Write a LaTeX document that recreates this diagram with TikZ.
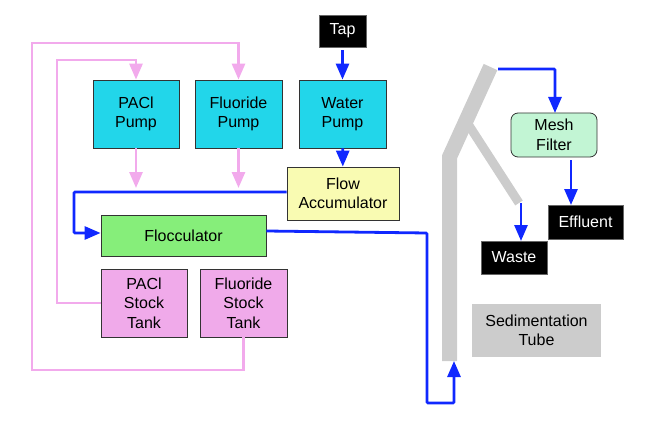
\documentclass[tikz,border=0pt]{standalone}
\usepackage{fontspec}
\setmainfont{Liberation Sans}
\usepackage{tikz}
\usetikzlibrary{arrows.meta}

\definecolor{pumpcyan}{RGB}{34,214,234}
\definecolor{accumyellow}{RGB}{249,251,178}
\definecolor{floccgreen}{RGB}{134,238,122}
\definecolor{tankpink}{RGB}{240,170,234}
\definecolor{meshgreen}{RGB}{194,245,212}
\definecolor{tubegray}{RGB}{204,204,204}
\definecolor{flowblue}{RGB}{16,40,255}
\definecolor{dosepink}{RGB}{242,170,236}

\tikzset{
  box/.style={draw=black!80, line width=0.8pt, align=center, inner sep=0pt,
    font=\fontsize{16}{19.5}\selectfont},
  blackbox/.style={box, fill=black, draw=black!60, text=white},
  water/.style={flowblue, line width=2.8pt, -{Triangle[width=13pt,length=16pt]}},
  dose/.style={dosepink, line width=2.8pt, -{Triangle[width=13pt,length=16pt]}}
}

\begin{document}
\begin{tikzpicture}[x=1pt, y=-1pt]
    \useasboundingbox (0,0) rectangle (646,428);
    % pumps and tanks
    \node[blackbox, minimum width=47pt, minimum height=32pt] (tap) at (342.5,31) {Tap};
    \node[box, fill=pumpcyan, minimum width=86pt, minimum height=68pt] (paclpump) at (136,114) {PACl\\Pump};
    \node[box, fill=pumpcyan, minimum width=87pt, minimum height=68pt] (flpump) at (238.5,114) {Fluoride\\Pump};
    \node[box, fill=pumpcyan, minimum width=87pt, minimum height=68pt] (waterpump) at (342.5,114) {Water\\Pump};
    \node[box, fill=accumyellow, minimum width=112pt, minimum height=53pt] (accum) at (343,193.5) {Flow\\Accumulator};
    \node[box, fill=floccgreen, minimum width=165pt, minimum height=41pt] (flocc) at (183.5,235.5) {Flocculator};
    \node[box, fill=tankpink, minimum width=86pt, minimum height=68pt] (pacltank) at (144,303) {PACl\\Stock\\Tank};
    \node[box, fill=tankpink, minimum width=87pt, minimum height=68pt] (fltank) at (243.5,303) {Fluoride\\Stock\\Tank};
    % right side
    \node[box, fill=meshgreen, rounded corners=7pt, minimum width=86pt, minimum height=44pt] (mesh) at (554,135) {Mesh\\Filter};
    \node[blackbox, minimum width=75pt, minimum height=34pt] (effluent) at (585.5,222) {Effluent};
    \node[blackbox, minimum width=66pt, minimum height=33pt] (waste) at (514,257.5) {Waste};
    \node[box, draw=none, fill=tubegray, minimum width=129pt, minimum height=53pt] (tubelabel) at (536.5,330.5) {Sedimentation\\Tube};

    % sedimentation tube
    \coordinate (tubebot) at (449.5,361);
    \coordinate (tubeknee) at (449.5,157);
    \coordinate (tubetop) at (490.5,67);
    \coordinate (branchtop) at (468,124);
    \coordinate (branchend) at (519,203);
    \draw[tubegray, line width=15pt, line join=miter] (tubebot) -- (tubeknee) -- (tubetop);
    \draw[tubegray, line width=9pt] (branchtop) -- (branchend);

    % water line
    \draw[water, shorten <=3pt] (tap) -- (waterpump);
    \draw[water] (waterpump) -- (accum);
    \draw[water, rounded corners=1pt] (accum.west |- 0,192) -- (74,192) -- (74,233) -- (flocc.west |- 0,233);
    \draw[water, rounded corners=1pt] (flocc.east |- 0,231) -- (427,233) -- (427,403) -- (454,403) -- (454,361);
    \draw[water, rounded corners=1pt] (498,69) -- (555,69) -- (555,113);
    \coordinate (effin) at (571,205);
    \draw[water, shorten <=3pt] (effin |- mesh.south) -- (effin);
    \coordinate (wastein) at (521,241);
    \draw[water] (wastein |- branchend) -- (wastein);

    % dosing lines
    \coordinate (pacldrop) at (136,188);
    \coordinate (fldrop) at (238.5,188);
    \draw[dose] (paclpump) -- (pacldrop);
    \draw[dose] (flpump) -- (fldrop);
    \draw[dose] (pacltank.west) -- (57,303) -- (57,60) -- (136,60) -- (paclpump.north);
    \draw[dose] (fltank.south) -- (243.5,370) -- (32,370) -- (32,43) -- (238.5,43) -- (flpump.north);
\end{tikzpicture}
\end{document}
